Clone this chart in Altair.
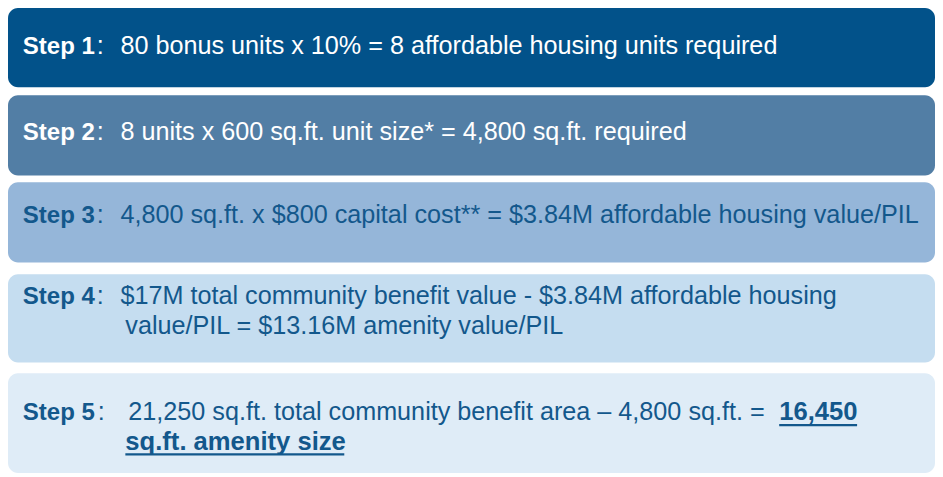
import altair as alt
import pandas as pd

# ---- data (layout of the reference, in reference pixel units) ----
steps = [1, 2, 3, 4, 5]
box_top = [2, 91, 180, 274, 375]
box_bottom = [83, 173, 262, 364, 477]
box_left = [3, 3, 3, 3, 3]
box_right = [943, 943, 943, 943, 943]
box_colors = ["#02528A", "#527EA5", "#95B6D9", "#C5DDF0", "#DFECF7"]
text_colors = ["#FFFFFF", "#FFFFFF", "#13588C", "#13588C", "#13588C"]

# text segments: step, text, x, baseline, style
seg_step = [1, 1, 1,
            2, 2, 2,
            3, 3, 3,
            4, 4, 4, 4,
            5, 5, 5, 5, 5]
seg_text = [
    "Step 1", ":", "80 bonus units x 10% = 8 affordable housing units required",
    "Step 2", ":", "8 units x 600 sq.ft. unit size* = 4,800 sq.ft. required",
    "Step 3", ":", "4,800 sq.ft. x $800 capital cost** = $3.84M affordable housing value/PIL",
    "Step 4", ":", "$17M total community benefit value - $3.84M affordable housing",
    "value/PIL = $13.16M amenity value/PIL",
    "Step 5", ":", "21,250 sq.ft. total community benefit area \u2013 4,800 sq.ft. =",
    "16,450", "sq.ft. amenity size",
]
seg_x = [18, 93, 117,
         18, 93, 117,
         18, 93, 117,
         18, 93, 117, 122,
         18, 94, 125, 785, 122]
seg_y = [49, 49, 49,
         137, 137, 137,
         222, 222, 222,
         304, 304, 304, 335,
         423, 423, 423, 423, 453]
# "label" = bold step label, "reg" = regular, "strong" = bold underlined result
seg_style = ["label", "reg", "reg",
             "label", "reg", "reg",
             "label", "reg", "reg",
             "label", "reg", "reg", "reg",
             "label", "reg", "reg", "strong", "strong"]

# underlines (step 5 result)
ul_x = [785, 122]
ul_x2 = [864, 344]
ul_y = [428, 458]

W, H = 927, 465

boxes = pd.DataFrame({
    "step": steps, "top": box_top, "bottom": box_bottom,
    "left": box_left, "right": box_right, "fill": box_colors,
})
segs = pd.DataFrame({
    "step": seg_step, "text": seg_text, "x": seg_x, "y": seg_y, "style": seg_style,
})
segs["color"] = [text_colors[s - 1] for s in segs["step"]]
ul = pd.DataFrame({"x": ul_x, "x2": ul_x2, "y": ul_y, "color": text_colors[4]})

xs = alt.Scale(domain=[3, 943], range=[0, W], nice=False, zero=False)
ys = alt.Scale(domain=[2, 477], range=[0, H], nice=False, zero=False)

rects = alt.Chart(boxes).mark_rect(cornerRadius=10).encode(
    x=alt.X("left:Q", scale=xs, axis=None),
    x2="right:Q",
    y=alt.Y("top:Q", scale=ys, axis=None),
    y2="bottom:Q",
    fill=alt.Fill("fill:N", scale=None),
)

FONT = "Liberation Sans"


def text_layer(style, size, weight):
    return alt.Chart(segs[segs["style"] == style]).mark_text(
        align="left", baseline="alphabetic", font=FONT, fontSize=size, fontWeight=weight
    ).encode(
        x=alt.X("x:Q", scale=xs, axis=None),
        y=alt.Y("y:Q", scale=ys, axis=None),
        text="text:N",
        color=alt.Color("color:N", scale=None),
    )


label_text = text_layer("label", 24, "bold")
reg_text = text_layer("reg", 25.2, "normal")
strong_text = text_layer("strong", 25.6, "bold")

underline = alt.Chart(ul).mark_rule(strokeWidth=2.2).encode(
    x=alt.X("x:Q", scale=xs, axis=None),
    x2="x2:Q",
    y=alt.Y("y:Q", scale=ys, axis=None),
    color=alt.Color("color:N", scale=None),
)

chart = alt.layer(rects, label_text, reg_text, strong_text, underline).properties(
    width=W, height=H, padding=0, autosize=alt.AutoSizeParams(type="none"),
    background="#FFFFFF",
).configure_view(stroke=None)

chart.save("out.html", embed_options={"renderer": "svg", "actions": False})
